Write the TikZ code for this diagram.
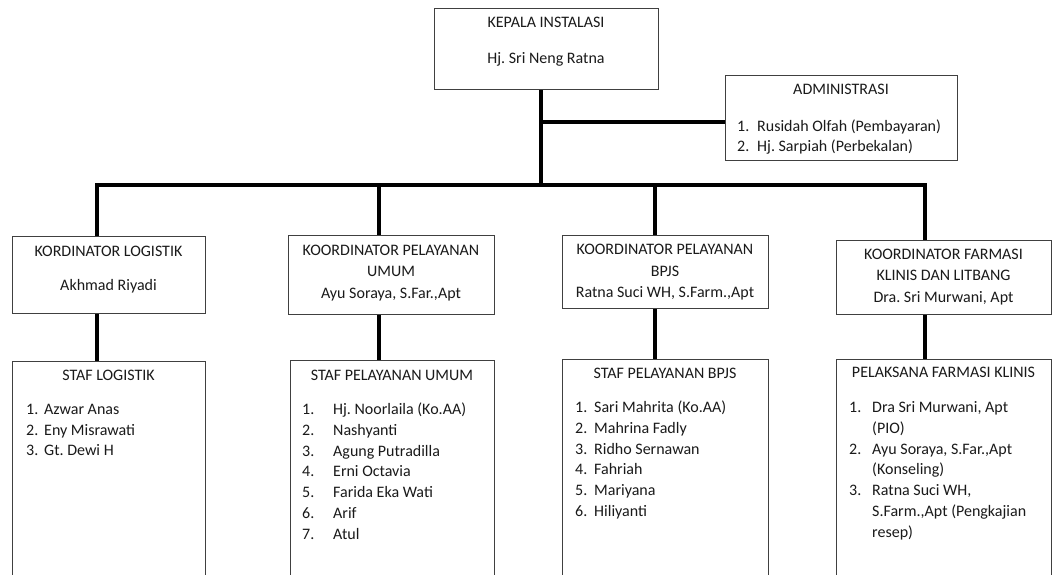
\documentclass[tikz,border=0pt]{standalone}
\usepackage{fontspec}
\setmainfont{Carlito}
\definecolor{boxline}{HTML}{404040}
\definecolor{txt}{HTML}{1A1A1A}
\begin{document}
\frenchspacing
\begin{tikzpicture}[x=1pt,y=-1pt,
  box/.style={draw=boxline,line width=1.1pt,rectangle,inner sep=0pt,anchor=north west},
  conn/.style={line width=4.5pt,black,line join=miter},
  tx/.style={anchor=base,inner sep=0pt,text=txt,font=\fontsize{16}{19}\selectfont},
  tl/.style={tx,anchor=base west}]
\useasboundingbox (0,0) rectangle (1052,574);
\clip (0,0) rectangle (1052,574);
\fill[white] (0,0) rectangle (1052,574);
% boxes
\node[box,minimum width=224pt,minimum height=81pt] (k) at (434,8) {};
\node[box,minimum width=232pt,minimum height=85pt] (adm) at (725,75) {};
\node[box,minimum width=193pt,minimum height=77pt] (c1) at (12,236) {};
\node[box,minimum width=206pt,minimum height=79pt] (c2) at (288,235) {};
\node[box,minimum width=206pt,minimum height=73pt] (c3) at (562,235) {};
\node[box,minimum width=215pt,minimum height=74pt] (c4) at (836,240) {};
\node[box,minimum width=193pt,minimum height=240pt] (s1) at (12,361) {};
\node[box,minimum width=204pt,minimum height=240pt] (s2) at (290,360) {};
\node[box,minimum width=206pt,minimum height=240pt] (s3) at (562,359) {};
\node[box,minimum width=215pt,minimum height=240pt] (s4) at (836,359) {};
% junction coordinates
\coordinate (j) at (541,185);
\coordinate (ja) at (541,122);
\coordinate (b1) at (97,185);
\coordinate (b2) at (379,185);
\coordinate (b3) at (655,185);
\coordinate (b4) at (925,185);
% connectors
\draw[conn] (k.south -| j) -- (j);
\draw[conn] (ja) -- (ja -| adm.west);
\draw[conn] (c1.north -| b1) -- (b1) -- (b4) -- (c4.north -| b4);
\draw[conn] (b2) -- (c2.north -| b2);
\draw[conn] (b3) -- (c3.north -| b3);
\draw[conn] (c1.south -| b1) -- (s1.north -| b1);
\draw[conn] (c2.south -| b2) -- (s2.north -| b2);
\draw[conn] (c3.south -| b3) -- (s3.north -| b3);
\draw[conn] (c4.south -| b4) -- (s4.north -| b4);
% texts: kepala
\node[tx] (kt1) at (546,27) {KEPALA INSTALASI};
\node[tx] (kt2) at (546,63) {Hj. Sri Neng Ratna};
% administrasi
\node[tx] (at1) at (841,94) {ADMINISTRASI};
\node[tl] (an1) at (737,131) {1.};
\node[tl] (aa1) at (757,131) {Rusidah Olfah (Pembayaran)};
\node[tl] (an2) at (737,151) {2.};
\node[tl] (aa2) at (757,151) {Hj. Sarpiah (Perbekalan)};
% coordinators
\node[tx] (c1t1) at (108.5,256) {KORDINATOR LOGISTIK};
\node[tx] (c1t2) at (108.5,290) {Akhmad Riyadi};
\node[tx] (c2t1) at (391,255) {KOORDINATOR PELAYANAN};
\node[tx] (c2t2) at (391,276) {UMUM};
\node[tx] (c2t3) at (391,298) {Ayu Soraya, S.Far.,Apt};
\node[tx] (c3t1) at (665,254) {KOORDINATOR PELAYANAN};
\node[tx] (c3t2) at (665,276) {BPJS};
\node[tx] (c3t3) at (665,297) {Ratna Suci WH, S.Farm.,Apt};
\node[tx] (c4t1) at (943.5,259) {KOORDINATOR FARMASI};
\node[tx] (c4t2) at (943.5,280) {KLINIS DAN LITBANG};
\node[tx] (c4t3) at (943.5,302) {Dra. Sri Murwani, Apt};
% staff titles
\node[tx] (s1t) at (108.5,380) {STAF LOGISTIK};
\node[tx] (s2t) at (392,380) {STAF PELAYANAN UMUM};
\node[tx] (s3t) at (665,378) {STAF PELAYANAN BPJS};
\node[tx] (s4t) at (943.5,377) {PELAKSANA FARMASI KLINIS};
% staff logistik
\node[tl] (s1n1) at (26,414) {1.};  \node[tl] (s1a1) at (44,414) {Azwar Anas};
\node[tl] (s1n2) at (26,435) {2.};  \node[tl] (s1a2) at (44,435) {Eny Misrawati};
\node[tl] (s1n3) at (26,455) {3.};  \node[tl] (s1a3) at (44,455) {Gt. Dewi H};
% staff umum
\node[tl] (s2n1) at (302,414) {1.}; \node[tl] (s2a1) at (333,414) {Hj. Noorlaila (Ko.AA)};
\node[tl] (s2n2) at (302,435) {2.}; \node[tl] (s2a2) at (333,435) {Nashyanti};
\node[tl] (s2n3) at (302,456) {3.}; \node[tl] (s2a3) at (333,456) {Agung Putradilla};
\node[tl] (s2n4) at (302,476) {4.}; \node[tl] (s2a4) at (333,476) {Erni Octavia};
\node[tl] (s2n5) at (302,497) {5.}; \node[tl] (s2a5) at (333,497) {Farida Eka Wati};
\node[tl] (s2n6) at (302,518) {6.}; \node[tl] (s2a6) at (333,518) {Arif};
\node[tl] (s2n7) at (302,539) {7.}; \node[tl] (s2a7) at (333,539) {Atul};
% staff bpjs
\node[tl] (s3n1) at (575,412) {1.}; \node[tl] (s3a1) at (594,412) {Sari Mahrita (Ko.AA)};
\node[tl] (s3n2) at (575,433) {2.}; \node[tl] (s3a2) at (594,433) {Mahrina Fadly};
\node[tl] (s3n3) at (575,454) {3.}; \node[tl] (s3a3) at (594,454) {Ridho Sernawan};
\node[tl] (s3n4) at (575,474) {4.}; \node[tl] (s3a4) at (594,474) {Fahriah};
\node[tl] (s3n5) at (575,495) {5.}; \node[tl] (s3a5) at (594,495) {Mariyana};
\node[tl] (s3n6) at (575,516) {6.}; \node[tl] (s3a6) at (594,516) {Hiliyanti};
% pelaksana farmasi klinis
\node[tl] (s4n1) at (849,412) {1.}; \node[tl] (s4a1) at (872,412) {Dra Sri Murwani, Apt};
\node[tl] (s4a1b) at (872,433) {(PIO)};
\node[tl] (s4n2) at (849,454) {2.}; \node[tl] (s4a2) at (872,454) {Ayu Soraya, S.Far.,Apt};
\node[tl] (s4a2b) at (872,474) {(Konseling)};
\node[tl] (s4n3) at (849,495) {3.}; \node[tl] (s4a3) at (872,495) {Ratna Suci WH,};
\node[tl] (s4a3b) at (872,516) {S.Farm.,Apt (Pengkajian};
\node[tl] (s4a3c) at (872,537) {resep)};
\end{tikzpicture}
\end{document}
